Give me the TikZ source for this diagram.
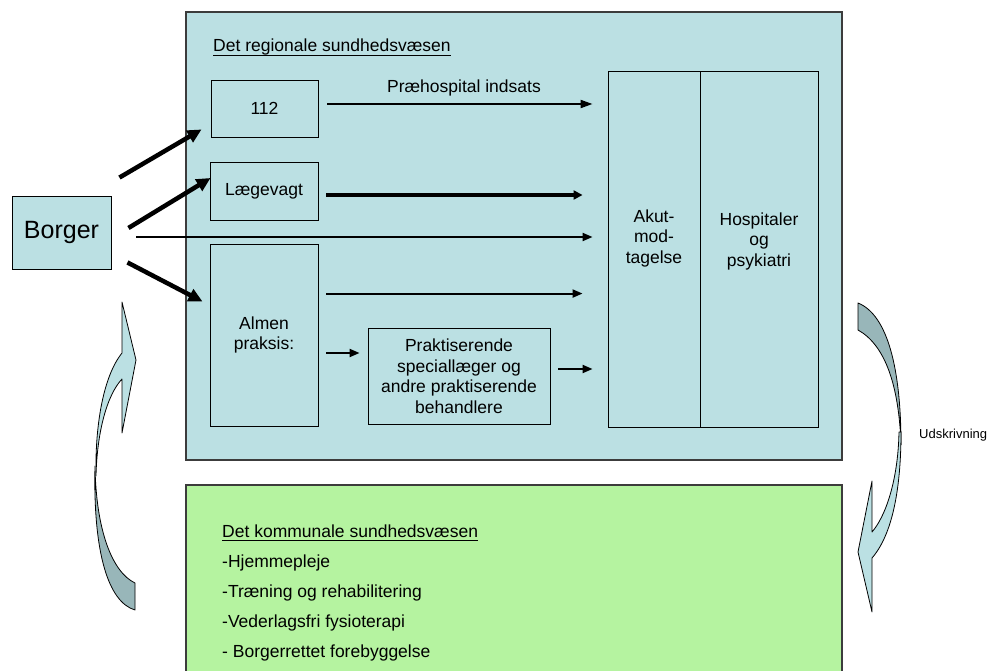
\documentclass[tikz,border=0pt]{standalone}
\usepackage{fontspec}
\setmainfont{Liberation Sans}
\usetikzlibrary{arrows.meta,calc}
\definecolor{regblue}{RGB}{187,224,227}
\definecolor{komgreen}{RGB}{181,243,160}
\definecolor{arrdark}{RGB}{152,182,185}
\definecolor{framegray}{RGB}{60,60,60}
\begin{document}
\begin{tikzpicture}[x=1pt,y=-1pt,
  txt/.style={font=\fontsize{17.5}{20.5}\selectfont},
  box/.style={draw=black, line width=0.9pt, fill=regblue, inner sep=0pt, align=center, txt},
  area/.style={draw=framegray, line width=1.2pt, inner sep=0pt},
  arr/.style={line width=2pt, -{Triangle[length=10pt,width=8pt]}},
  midarr/.style={line width=3.3pt, -{Triangle[length=9pt,width=9pt]}},
  bigarr/.style={line width=4.5pt, -{Triangle[length=14pt,width=13pt]}},
  curved/.style={draw=black, line width=0.8pt, line join=round},
  item/.style={txt, anchor=base west, inner sep=0pt},
  uline/.style={line width=1.4pt}
  ]
\useasboundingbox (0,0) rectangle (996,671);
\clip (0,0) rectangle (996,671);

% areas
\node[area, fill=regblue, minimum width=656pt, minimum height=448pt] (reg) at (514,236) {};
\node[area, fill=komgreen, minimum width=656pt, minimum height=210pt] (kom) at (514,590) {};

% boxes
\node[box, minimum width=99pt, minimum height=73pt, font=\fontsize{25}{30}\selectfont] (borger) at (61.5,232.5) {Borger};
\node[box, minimum width=107pt, minimum height=57pt] (n112) at (264.5,108.5) {112};
\node[box, minimum width=108pt, minimum height=58pt] (lv) at (264,191) {Lægevagt};
\node[box, minimum width=108pt, minimum height=182pt] (almen) at (264,335) {Almen\\praksis:};
\node[box, minimum width=182pt, minimum height=96pt] (prakt) at (459,376) {Praktiserende\\speciallæger og\\andre praktiserende\\behandlere};
\node[box, minimum width=92pt, minimum height=356pt] (akut) at (654,249) {};
\node[box, minimum width=118pt, minimum height=356pt] (hosp) at (759,249) {};
\node[txt, align=center, inner sep=0pt] (akuttxt) at (654,238) {Akut-\\mod-\\tagelse};
\node[txt, align=center, inner sep=0pt] (hosptxt) at (759,241) {Hospitaler\\og\\psykiatri};

% titles and texts
\node[item] (regtitle) at (213,52) {Det regionale sundhedsvæsen};
\draw[uline] ($(regtitle.base west)+(0,3.5)$) -- ($(regtitle.base east)+(0,3.5)$);
\node[item] (komtitle) at (222,537) {Det kommunale sundhedsvæsen};
\draw[uline] ($(komtitle.base west)+(0,3.5)$) -- ($(komtitle.base east)+(0,3.5)$);
\node[item] (k1) at (222,567) {-Hjemmepleje};
\node[item] (k2) at (222,597) {-Træning og rehabilitering};
\node[item] (k3) at (222,627) {-Vederlagsfri fysioterapi};
\node[item] (k4) at (222,657) {- Borgerrettet forebyggelse};
\node[font=\fontsize{13}{15}\selectfont, anchor=west, inner sep=0pt] (udsk) at (919,435) {Udskrivning};

% arrows from Borger
\draw[bigarr] ($(borger.north east)+(8,-18)$) -- ($(n112.south west)+(-9,-8)$);
\draw[bigarr] ($(borger.east)+(17,-4.5)$) -- ($(lv.west)+(1,-13)$);
\draw[bigarr] ($(borger.south east)+(16,-7)$) -- ($(almen.north west)+(-7,58)$);
\draw[arr] ($(borger.east)+(25,4.5)$) -- ($(akut.west |- borger.east)+(-15,4.5)$);

% arrows inside region
\draw[line width=2pt, -{Triangle[length=12pt,width=8pt]}] ($(n112.east)+(9,-4.5)$) -- node[pos=0.515, above=7pt, inner sep=0pt, txt] (preh) {Præhospital indsats} ($(akut.west |- n112.east)+(-15,-4.5)$);
\draw[midarr] ($(lv.east)+(8,4)$) -- ($(akut.west |- lv.east)+(-25,4)$);
\draw[arr] ($(almen.north east)+(8,50)$) -- ($(akut.west |- almen.north east)+(-25,50)$);
\draw[arr] ($(almen.east |- prakt.west)+(8,-23)$) -- ($(prakt.west)+(-8,-23)$);
\draw[arr] ($(prakt.east)+(8,-7)$) -- ($(akut.west |- prakt.east)+(-15,-7)$);

% left curved arrow
\draw[curved, fill=arrdark] (95,466) .. controls (96,530) and (112,572) .. (135,583) -- (135,610) .. controls (108,602) and (93,552) .. (95,466) -- cycle;
\draw[curved, fill=regblue] (122,302) -- (136,360) -- (122,433) -- (122,379) .. controls (107,395) and (97,432) .. (96,476) .. controls (95,430) and (102,378) .. (122,353) -- cycle;

% right curved arrow
\draw[curved, fill=arrdark] (858,303) .. controls (888,315) and (901,370) .. (901,445) .. controls (899,385) and (885,345) .. (858,330) -- cycle;
\draw[curved, fill=regblue] (901,432) .. controls (901,490) and (892,535) .. (872,558) -- (872,612) -- (858,552) -- (872,481) -- (872,532) .. controls (885,517) and (898,482) .. (899,432) -- cycle;
\end{tikzpicture}
\end{document}
